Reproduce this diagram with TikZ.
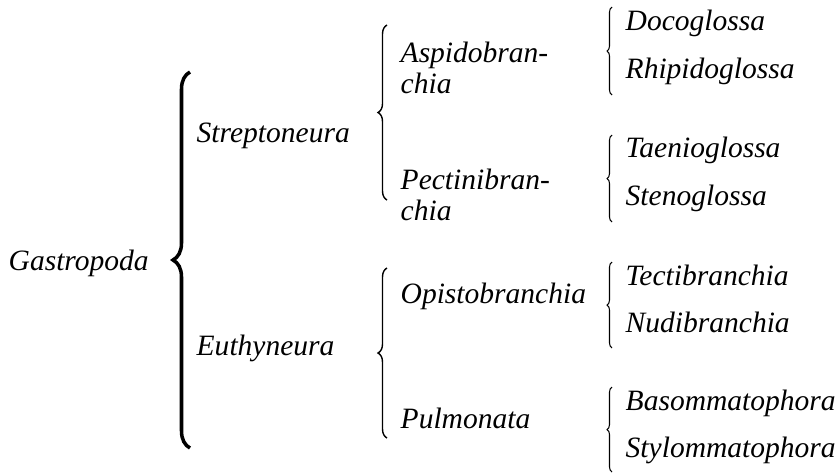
\documentclass[tikz,border=0pt]{standalone}
\usepackage{fontspec}
\setmainfont{Liberation Serif}[ItalicFont={Liberation Serif Italic}]
\usetikzlibrary{decorations.pathreplacing}

\tikzset{
  taxon/.style={anchor=base west, inner sep=0pt, font=\fontsize{8.4}{8.8}\selectfont\itshape, align=left},
  bigbrace/.style={decorate, decoration={brace, amplitude=0.17cm}, line width=1pt},
  midbrace/.style={decorate, decoration={brace, amplitude=0.09cm}, line width=0.4pt},
  smallbrace/.style={decorate, decoration={brace, amplitude=0.05cm}, line width=0.3pt}
}

\begin{document}
\begin{tikzpicture}
  \useasboundingbox (0,0) rectangle (8.38,4.72);

  % class and subclasses
  \node[taxon] (gastropoda) at (0.08,2.02) {Gastropoda};
  \draw[bigbrace] (1.90,0.24) -- (1.90,4.00);
  \node[taxon] (strepto) at (1.96,3.30) {Streptoneura};
  \node[taxon] (euthy) at (1.96,1.17) {Euthyneura};

  % orders
  \draw[midbrace] (3.87,2.72) -- (3.87,4.47);
  \node[taxon] (aspido) at (4.00,3.79) {Aspidobran-\\chia};
  \node[taxon] (pectini) at (4.00,2.52) {Pectinibran-\\chia};
  \draw[midbrace] (3.87,0.34) -- (3.87,2.04);
  \node[taxon] (opisto) at (4.00,1.69) {Opistobranchia};
  \node[taxon] (pulmo) at (4.00,0.44) {Pulmonata};

  % suborders
  \draw[smallbrace] (6.12,3.77) -- (6.12,4.65);
  \node[taxon] (doco) at (6.25,4.42) {Docoglossa};
  \node[taxon] (rhipido) at (6.25,3.94) {Rhipidoglossa};
  \draw[smallbrace] (6.12,2.50) -- (6.12,3.37);
  \node[taxon] (taenio) at (6.25,3.15) {Taenioglossa};
  \node[taxon] (steno) at (6.25,2.67) {Stenoglossa};
  \draw[smallbrace] (6.12,1.24) -- (6.12,2.10);
  \node[taxon] (tecti) at (6.25,1.87) {Tectibranchia};
  \node[taxon] (nudi) at (6.25,1.40) {Nudibranchia};
  \draw[smallbrace] (6.12,0.00) -- (6.12,0.85);
  \node[taxon] (basom) at (6.25,0.62) {Basommatophora};
  \node[taxon] (stylom) at (6.25,0.15) {Stylommatophora};
\end{tikzpicture}
\end{document}
